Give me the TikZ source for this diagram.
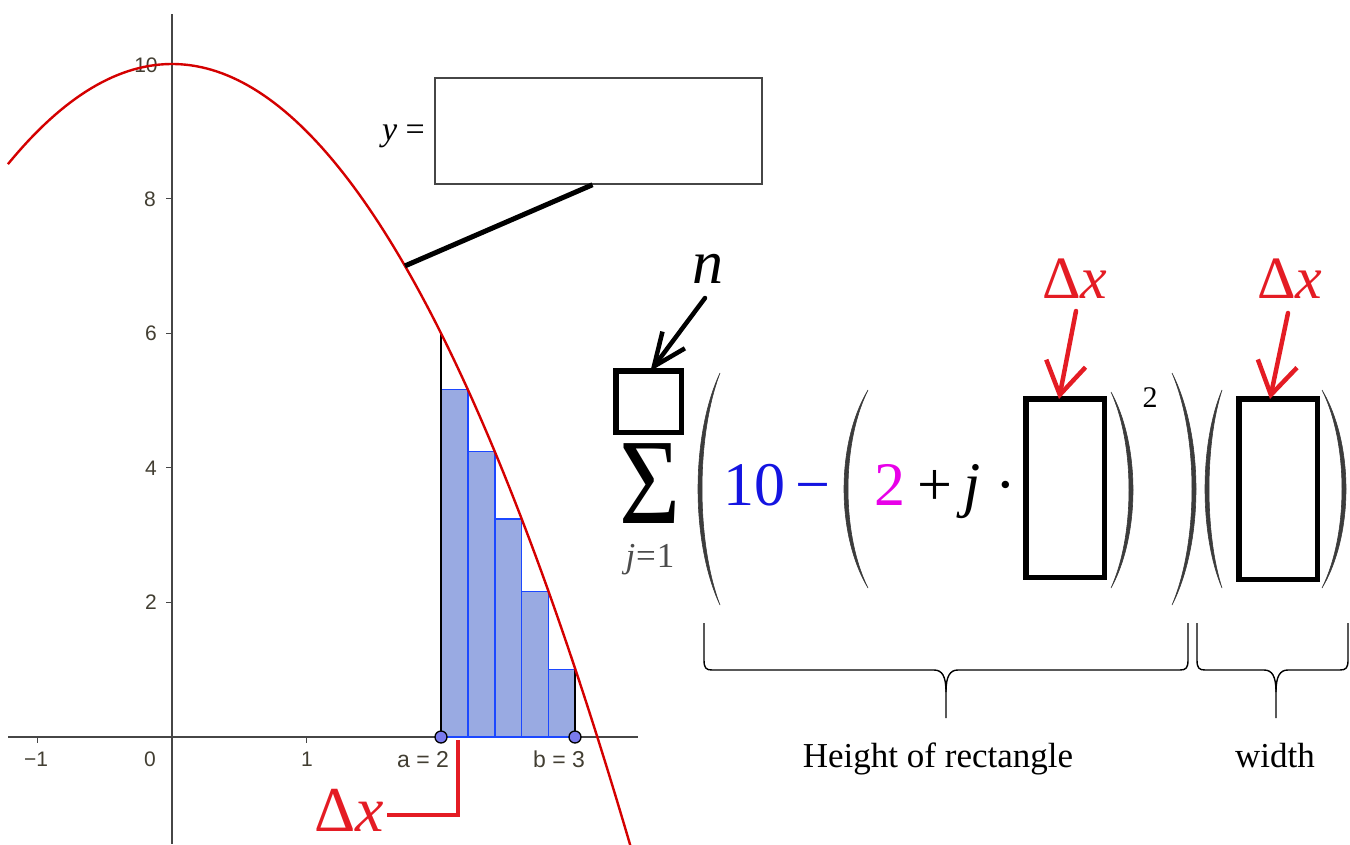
\documentclass[tikz,border=0pt]{standalone}
\usepackage{fontspec}
\setmainfont{Liberation Serif}
\newfontfamily\axfont{Liberation Sans}
\usetikzlibrary{arrows.meta,calc}
\definecolor{curvered}{RGB}{212,0,0}
\definecolor{annred}{RGB}{228,28,36}
\definecolor{rectfill}{RGB}{153,170,226}
\definecolor{rectline}{RGB}{28,72,255}
\definecolor{ptfill}{RGB}{122,122,238}
\definecolor{axcol}{RGB}{70,70,70}
\definecolor{labcol}{RGB}{66,62,50}
\definecolor{parcol}{RGB}{60,60,60}
\definecolor{tenblue}{RGB}{20,20,225}
\definecolor{twomag}{RGB}{232,0,232}
\newcommand\bigpar[5]{%
  \filldraw[parcol, line width=0.6pt] (#1,#2) .. controls ({#1+1.333*(#4)},{#2+0.27*(#3-#2)}) and ({#1+1.333*(#4)},{#3-0.27*(#3-#2)}) .. (#1,#3)
    .. controls ({#1+1.333*(#5)},{#3-0.27*(#3-#2)}) and ({#1+1.333*(#5)},{#2+0.27*(#3-#2)}) .. cycle;}
\newcommand\upbrace[3]{%
  \draw[line width=1.4pt, line join=round] (#1,623) -- (#1,660) .. controls (#1,668) and ({#1+2},670) .. ({#1+8},670) -- ({#3-12},670)
     .. controls ({#3-4},670) and (#3,676) .. (#3,692) -- (#3,718);
  \draw[line width=1.4pt, line join=round] (#2,623) -- (#2,660) .. controls (#2,668) and ({#2-2},670) .. ({#2-8},670) -- ({#3+12},670)
     .. controls ({#3+4},670) and (#3,676) .. (#3,692);}
\begin{document}
\begin{tikzpicture}[x=1pt,y=-1pt,
  axlab/.style={font=\axfont\fontsize{21}{21}\selectfont, text=labcol, inner sep=0pt, anchor=base},
  ptlab/.style={font=\axfont\fontsize{23}{23}\selectfont, text=labcol, inner sep=0pt, anchor=base},
  bigtxt/.style={font=\fontsize{62}{62}\selectfont, inner sep=0pt, anchor=base},
  reddx/.style={font=\fontsize{60}{60}\selectfont, text=annred, inner sep=0pt, anchor=base},
  blank/.style={draw=black, line width=5.5pt, inner sep=0pt},
  redarrow/.style={draw=annred, line width=4.5pt, line cap=round, -{Straight Barb[length=32pt,width=40pt]}},
  blackarrow/.style={draw=black, line width=4.5pt, line cap=round, -{Straight Barb[length=33pt,width=28pt]}},
  captxt/.style={font=\fontsize{35}{35}\selectfont, inner sep=0pt, anchor=base}]
\useasboundingbox (0,0) rectangle (1350,844);
% axes
\draw[axcol, line width=1.5pt] (8,737) -- (638,737);
\draw[axcol, line width=1.5pt] (172,14) -- (172,844);
\foreach \t in {-1,1,2,3} \draw[axcol, line width=1.3pt] ({172+134.5*\t},737) -- ++(0,6);
\foreach \v in {2,4,6,8,10} \draw[axcol, line width=1.3pt] (172,{737-67.3*\v}) -- ++(-6,0);
% tick labels
\node[axlab] (lm1) at (36,766) {−1};
\node[axlab] (l0) at (150,766) {0};
\node[axlab] (l1) at (307,766) {1};
\node[ptlab] (la) at (423,767) {a = 2};
\node[ptlab] (lb) at (559,767) {b = 3};
\node[axlab] (l2) at (151,609) {2};
\node[axlab] (l4) at (151,475) {4};
\node[axlab] (l6) at (151,340) {6};
\node[axlab] (l8) at (150,206) {8};
\node[axlab] (l10) at (146,72) {10};
% rectangles
\foreach \k in {1,...,5}{
  \pgfmathsetmacro\xl{172+134.5*(2+0.2*(\k-1))}
  \pgfmathsetmacro\xr{172+134.5*(2+0.2*\k)}
  \pgfmathsetmacro\yt{737-67.3*(10-(2+0.2*\k)^2)}
  \draw[fill=rectfill, draw=rectline, line width=1.5pt] (\xl,737) rectangle (\xr,\yt);
}
\draw[black, line width=1.3pt] (441,737) -- (441,333.2);
\draw[black, line width=1.3pt] (575,737) -- (575,669.7);
% curve
\draw[curvered, line width=2.4pt] plot[domain=-1.22:3.41, samples=120] ({172+134.5*\x},{737-67.3*(10-\x*\x)});
% endpoints
\node[circle, fill=ptfill, draw=black, line width=1.3pt, minimum size=12pt, inner sep=0pt] (pa) at (441,737) {};
\node[circle, fill=ptfill, draw=black, line width=1.3pt, minimum size=12pt, inner sep=0pt] (pb) at (575,737) {};
% bottom delta x
\node[font=\fontsize{64}{64}\selectfont, text=annred, inner sep=0pt, anchor=base east] (dxb) at (384,831) {Δ\textit{x}};
\coordinate (dxtop) at (458,740);
\draw[annred, line width=4pt, line join=miter] ([xshift=3pt,yshift=-5pt]dxb.east) -| (dxtop);
% y = box
\node[draw=axcol, line width=1.5pt, minimum width=327pt, minimum height=106pt, inner sep=0pt] (ybox) at (598.5,131) {};
\node[font=\fontsize{34}{34}\selectfont, inner sep=0pt, anchor=base east] (ylab) at (425,140) {\textit{y} =};
\coordinate (cpt) at ({172+134.5*1.732},{737-67.3*7});
\draw[black, line width=5pt] (cpt) -- ([xshift=-6pt]ybox.south);
% sum
\node[blank, minimum width=65.5pt, minimum height=61.5pt] (box1) at (648.5,401.5) {};
\node[inner sep=0pt, font=\fontsize{122}{122}\selectfont] (sig) at (650,484) {\scalebox{0.86}[1]{Σ}};
\node[inner sep=0pt, font=\fontsize{35}{35}\selectfont, text=black!70, anchor=base] (jlim) at (650,567) {\textit{j}\kern1pt=\kern1pt1};
\node[font=\fontsize{62}{62}\selectfont, inner sep=0pt, anchor=base] (nlab) at (708,283) {\textit{n}};
\coordinate (nstart) at (705,298);
\draw[blackarrow] (nstart) -- ([xshift=2pt,yshift=-3pt]box1.north);
\bigpar{720}{373}{605}{-22}{-18}
\node[bigtxt, text=tenblue] (ten) at (754,505) {10};
\node[bigtxt, text=tenblue] (minus) at (813,505) {−};
\bigpar{868}{390}{588}{-24}{-20}
\node[bigtxt, text=twomag] (two) at (890,505) {2};
\node[bigtxt] (plus) at (935,505) {+};
\node[bigtxt] (jj) at (972,505) {\textit{j}};
\node[bigtxt] (dot) at (1006,505) {·};
\node[blank, minimum width=78.5pt, minimum height=178.5pt] (box2) at (1065,488) {};
\bigpar{1111}{392}{588}{22}{18}
\node[font=\fontsize{30}{30}\selectfont, inner sep=0pt, anchor=base] (sq) at (1150,407) {2};
\bigpar{1172}{373}{605}{24}{20}
\bigpar{1222}{390}{588}{-17}{-13}
\node[blank, minimum width=78.5pt, minimum height=180.5pt] (box3) at (1278,489) {};
\bigpar{1322}{390}{588}{24}{20}
% red delta x annotations
\node[reddx] (dx1) at (1075,298) {Δ\textit{x}};
\node[reddx] (dx2) at (1290,298) {Δ\textit{x}};
\coordinate (dx1s) at (1076,311);
\coordinate (dx2s) at (1288,313);
\draw[redarrow] (dx1s) -- ([xshift=-6pt,yshift=-3pt]box2.north);
\draw[redarrow] (dx2s) -- ([xshift=-8pt,yshift=-3pt]box3.north);
% braces
\upbrace{704}{1188}{946}
\upbrace{1197}{1348}{1276}
\node[captxt] (hgt) at (938,767) {Height of rectangle};
\node[captxt] (wid) at (1275,767) {width};
\end{tikzpicture}
\end{document}
